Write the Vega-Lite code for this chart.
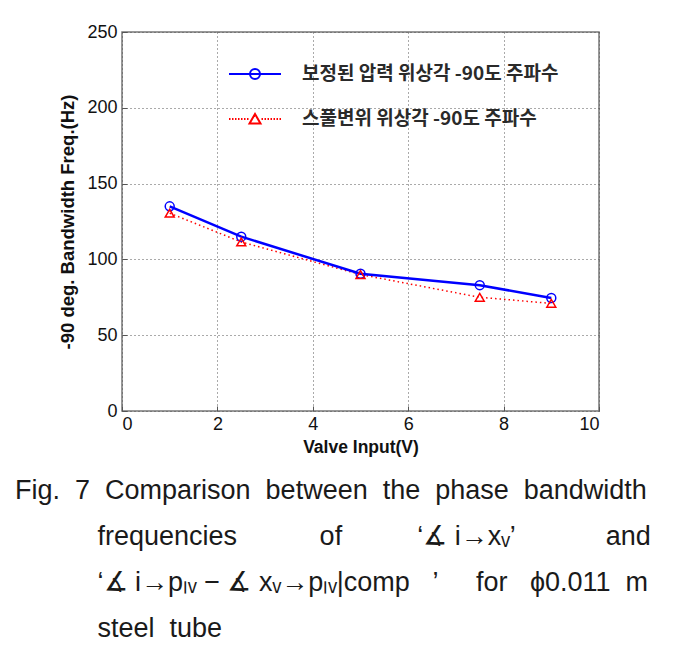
{
  "$schema": "https://vega.github.io/schema/vega-lite/v6.json",
  "width": 477,
  "height": 379,
  "autosize": {"type": "none"},
  "padding": {"left": 122, "top": 32, "right": 74, "bottom": 253},
  "background": "white",
  "config": {
    "view": {"stroke": "#777", "strokeWidth": 1.5},
    "axis": {
      "labelFont": "Liberation Sans",
      "labelFontSize": 18,
      "labelColor": "#111",
      "titleFont": "Liberation Sans",
      "titleFontWeight": "bold",
      "titleColor": "#111",
      "domain": false,
      "tickColor": "#555",
      "tickSize": -5,
      "gridColor": "#555",
      "gridDash": [1, 3],
      "gridOpacity": 1,
      "gridWidth": 1
    }
  },
  "title": {
    "text": [
      "Fig. \u00a07 \u00a0Comparison \u00a0between \u00a0the \u00a0phase \u00a0bandwidth",
      "\u200b\u00a0\u00a0\u00a0\u00a0\u00a0\u00a0\u00a0\u00a0\u00a0\u00a0\u00a0frequencies\u00a0\u00a0\u00a0\u00a0\u00a0\u00a0\u00a0\u00a0\u00a0\u00a0\u00a0of\u00a0\u00a0\u00a0\u00a0\u00a0\u00a0\u00a0\u00a0\u00a0\u00a0\u2018\u2221 i\u2192x\u1d65\u2019\u00a0\u00a0\u00a0\u00a0\u00a0\u00a0\u00a0\u00a0\u00a0\u00a0\u00a0\u00a0and",
      "\u200b\u00a0\u00a0\u00a0\u00a0\u00a0\u00a0\u00a0\u00a0\u00a0\u00a0\u00a0\u2018\u2221 i\u2192p\u2097\u1d65 \u2212 \u2221 x\u1d65\u2192p\u2097\u1d65|comp\u00a0\u00a0\u00a0\u2019\u00a0\u00a0\u00a0\u00a0\u00a0for\u00a0\u00a0\u00a0\u03d50.011\u00a0\u00a0m",
      "\u200b\u00a0\u00a0\u00a0\u00a0\u00a0\u00a0\u00a0\u00a0\u00a0\u00a0\u00a0steel \u00a0tube"
    ],
    "orient": "bottom",
    "anchor": "start",
    "frame": "group",
    "font": "Liberation Sans",
    "fontSize": 27,
    "fontWeight": "normal",
    "color": "#1a1a1a",
    "lineHeight": 46,
    "dx": -107,
    "offset": 22
  },
  "datasets": {
    "pts": [
      {"x": 1, "y": 135, "series": "보정된 압력 위상각 -90도 주파수"},
      {"x": 2.5, "y": 115, "series": "보정된 압력 위상각 -90도 주파수"},
      {"x": 5, "y": 90.5, "series": "보정된 압력 위상각 -90도 주파수"},
      {"x": 7.5, "y": 83, "series": "보정된 압력 위상각 -90도 주파수"},
      {"x": 9, "y": 74.5, "series": "보정된 압력 위상각 -90도 주파수"},
      {"x": 1, "y": 130.5, "series": "스풀변위 위상각 -90도 주파수"},
      {"x": 2.5, "y": 111.5, "series": "스풀변위 위상각 -90도 주파수"},
      {"x": 5, "y": 90, "series": "스풀변위 위상각 -90도 주파수"},
      {"x": 7.5, "y": 75, "series": "스풀변위 위상각 -90도 주파수"},
      {"x": 9, "y": 71, "series": "스풀변위 위상각 -90도 주파수"}
    ]
  },
  "data": {"name": "pts"},
  "encoding": {
    "x": {
      "field": "x",
      "type": "quantitative",
      "scale": {"domain": [0, 10], "nice": false},
      "axis": {"title": "Valve Input(V)", "titleFontSize": 17.5, "values": [0, 2, 4, 6, 8, 10], "grid": true, "labelPadding": 9, "titlePadding": 5}
    },
    "y": {
      "field": "y",
      "type": "quantitative",
      "scale": {"domain": [0, 250], "nice": false},
      "axis": {"title": "-90 deg. Bandwidth Freq.(Hz)", "titleFontSize": 18.5, "values": [0, 50, 100, 150, 200, 250], "grid": true, "labelPadding": 10, "titlePadding": 9}
    }
  },
  "layer": [
    {
      "transform": [{"filter": "datum.series === '스풀변위 위상각 -90도 주파수'"}],
      "mark": {"type": "line", "color": "#ff0000", "strokeWidth": 1.5, "strokeDash": [1.5, 3]}
    },
    {
      "transform": [{"filter": "datum.series === '보정된 압력 위상각 -90도 주파수'"}],
      "mark": {"type": "line", "color": "#0000ff", "strokeWidth": 2.5}
    },
    {
      "transform": [{"filter": "datum.series === '보정된 압력 위상각 -90도 주파수'"}],
      "mark": {"type": "point", "shape": "circle", "filled": false, "color": "#0000ff", "size": 80, "strokeWidth": 1.5, "opacity": 1}
    },
    {
      "transform": [{"filter": "datum.series === '스풀변위 위상각 -90도 주파수'"}],
      "mark": {"type": "point", "shape": "triangle-up", "filled": false, "color": "#ff0000", "size": 80, "strokeWidth": 1.5, "opacity": 1}
    },
    {
      "mark": {"type": "point", "opacity": 0, "filled": false},
      "encoding": {
        "color": {
          "field": "series",
          "type": "nominal",
          "scale": {
            "domain": ["보정된 압력 위상각 -90도 주파수", "스풀변위 위상각 -90도 주파수"],
            "range": ["#0000ff", "#ff0000"]
          },
          "legend": {
            "orient": "none",
            "legendX": 122,
            "legendY": 31,
            "title": null,
            "padding": 0,
            "symbolSize": 400,
            "symbolOpacity": 1,
            "symbolStrokeWidth": 2,
            "symbolFillColor": "transparent",
            "labelFont": "Noto Sans CJK KR",
            "labelFontSize": 19,
            "labelFontWeight": "bold",
            "labelColor": "#2a2a2a",
            "labelOffset": 36,
            "labelLimit": 400,
            "rowPadding": 24
          }
        },
        "shape": {
          "field": "series",
          "type": "nominal",
          "scale": {
            "domain": ["보정된 압력 위상각 -90도 주파수", "스풀변위 위상각 -90도 주파수"],
            "range": [
              "M-2.6,0H2.6M0.5,0A0.5,0.5 0 1,1 -0.5,0A0.5,0.5 0 1,1 0.5,0",
              "M-2.6,0h0.15M-2.3,0h0.15M-2.0,0h0.15M-1.7,0h0.15M-1.4,0h0.15M-1.1,0h0.15M-0.8,0h0.15M0.65,0h0.15M0.95,0h0.15M1.25,0h0.15M1.55,0h0.15M1.85,0h0.15M2.15,0h0.15M2.45,0h0.15M-0.55,0.45L0,-0.5L0.55,0.45Z"
            ]
          },
          "legend": {
            "orient": "none",
            "legendX": 122,
            "legendY": 31,
            "title": null,
            "padding": 0,
            "symbolSize": 400,
            "symbolOpacity": 1,
            "symbolStrokeWidth": 2,
            "symbolFillColor": "transparent",
            "labelFont": "Noto Sans CJK KR",
            "labelFontSize": 19,
            "labelFontWeight": "bold",
            "labelColor": "#2a2a2a",
            "labelOffset": 36,
            "labelLimit": 400,
            "rowPadding": 24
          }
        }
      }
    }
  ]
}
